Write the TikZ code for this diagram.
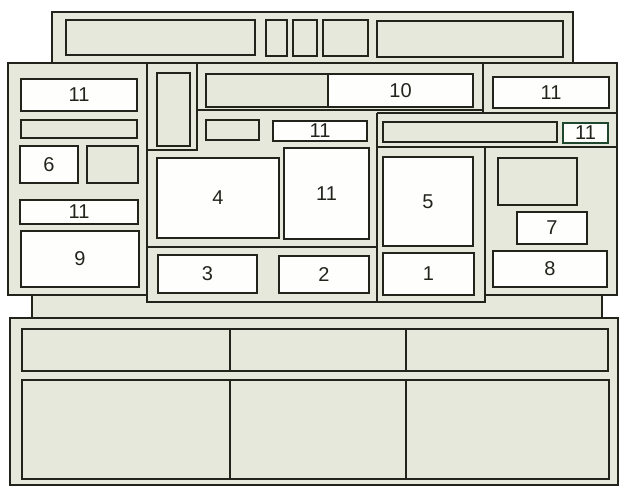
\documentclass[tikz,border=0pt]{standalone}
\usepackage{fontspec}
\setmainfont{Liberation Sans}
\definecolor{panel}{RGB}{230,232,220}
\definecolor{ink}{RGB}{34,36,28}
\definecolor{paper}{RGB}{254,254,252}
\definecolor{grn}{RGB}{30,72,45}
\newcommand\mybox[7]{\node[#2, minimum width={(#5-#3)*1pt}, minimum height={(#6-#4)*1pt}, anchor=north west] (#1) at (#3,#4) {#7};}
\begin{document}
\begin{tikzpicture}[x=1pt,y=-1pt,
  panelline/.style={draw=ink,line width=2.7pt,line join=miter},
  wbox/.style={draw=ink,fill=paper,line width=1.7pt,inner sep=0pt,outer sep=0pt,font=\fontsize{20}{20}\selectfont,text=ink},
  gbox/.style={wbox,fill=panel}]
\useasboundingbox (0,0) rectangle (621,487);
\fill[white] (0,0) rectangle (621,487);
% panels
\draw[panelline,fill=panel] (52,12) rectangle (573,64);
\draw[panelline,fill=panel] (32,285) rectangle (602,318);
\draw[panelline,fill=panel] (10,318) rectangle (618,485);
\draw[panelline,fill=panel] (8,63) rectangle (617,295);
\fill[panel] (148,250) rectangle (484,301);
% internal panel lines
\draw[panelline] (147,63) -- (147,302) -- (485,302) -- (485,147);
\draw[panelline] (147,150) -- (197,150) -- (197,63);
\draw[panelline] (197,110) -- (483,110);
\draw[panelline] (483,63) -- (483,113);
\draw[panelline] (377,113) -- (617,113);
\draw[panelline] (377,113) -- (377,302);
\draw[panelline] (377,147) -- (617,147);
\draw[panelline] (147,247) -- (377,247);
% top panel boxes
\mybox{t1}{gbox}{66}{20}{255}{55}{}
\mybox{t2}{gbox}{266}{20}{287}{56}{}
\mybox{t3}{gbox}{293}{20}{317}{56}{}
\mybox{t4}{gbox}{323}{20}{368}{56}{}
\mybox{t5}{gbox}{377}{21}{563}{57}{}
% left column
\mybox{l11a}{wbox}{21}{79}{137}{111}{11}
\mybox{lbar}{gbox}{21}{120}{137}{138}{}
\mybox{l6}{wbox}{20}{146}{78}{183}{6}
\mybox{lg}{gbox}{87}{146}{138}{183}{}
\mybox{l11b}{wbox}{20}{200}{138}{224}{11}
\mybox{l9}{wbox}{21}{231}{139}{287}{9}
% center
\mybox{narrow}{gbox}{157}{73}{190}{146}{}
\mybox{c10g}{gbox}{206}{74}{328}{107}{}
\mybox{c10}{wbox}{328}{74}{473}{107}{10}
\mybox{cg}{gbox}{206}{120}{259}{140}{}
\mybox{c11a}{wbox}{273}{121}{367}{141}{11}
\mybox{c4}{wbox}{157}{158}{279}{238}{4}
\mybox{c11b}{wbox}{284}{148}{369}{239}{11}
\mybox{c3}{wbox}{158}{255}{257}{293}{3}
\mybox{c2}{wbox}{279}{256}{369}{293}{2}
% right center
\mybox{rbar}{gbox}{383}{122}{557}{142}{}
\mybox{r11s}{wbox,draw=grn}{563}{123}{608}{143}{11}
\mybox{r5}{wbox}{383}{157}{473}{246}{5}
\mybox{r1}{wbox}{383}{253}{474}{295}{1}
% right column
\mybox{r11t}{wbox}{493}{77}{609}{108}{11}
\mybox{rg}{gbox}{498}{158}{577}{205}{}
\mybox{r7}{wbox}{517}{212}{587}{244}{7}
\mybox{r8}{wbox}{493}{251}{607}{287}{8}
% bottom panel
\mybox{ba1}{gbox}{22}{329}{230}{371}{}
\mybox{ba2}{gbox}{230}{329}{406}{371}{}
\mybox{ba3}{gbox}{406}{329}{608}{371}{}
\mybox{bb1}{gbox}{22}{380}{230}{479}{}
\mybox{bb2}{gbox}{230}{380}{406}{479}{}
\mybox{bb3}{gbox}{406}{380}{609}{479}{}
\end{tikzpicture}
\end{document}
